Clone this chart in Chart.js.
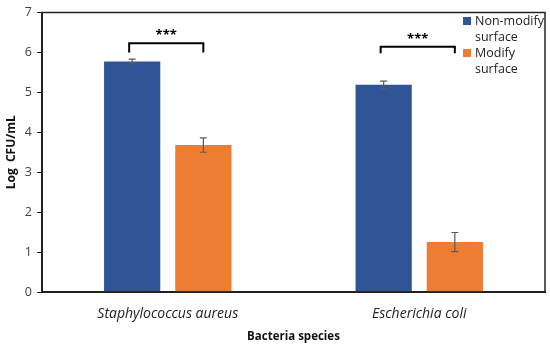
<!DOCTYPE html>
<html lang="en">
<head>
  <meta charset="UTF-8" />
  <title>Log CFU/mL by bacteria species</title>
  <script src="https://cdn.jsdelivr.net/npm/chart.js"></script>
  <style>
    html, body { margin: 0; padding: 0; background: #fff; }
    #wrap { width: 550px; height: 348px; position: relative; }
  </style>
</head>
<body>
  <div id="wrap"><canvas id="bars"></canvas></div>

  <script>
    // data
    const species = ['Staphylococcus aureus', 'Escherichia coli'];
    const nonModify = [5.77, 5.19];
    const nonModifyErr = [0.06, 0.09];
    const modify = [3.68, 1.25];
    const modifyErr = [0.18, 0.24];
    const yTicks = [0, 1, 2, 3, 4, 5, 6, 7];
    // significance: bracket top, bracket foot, label
    const sigTop = [6.23, 6.14];
    const sigFoot = [6.0, 5.98];
    const sigLabel = ['***', '***'];

    const BLUE = '#2F5597';
    const ORANGE = '#ED7D31';
    const FONT = "'Open Sans', sans-serif";

    const frame = {
      id: 'frame',
      afterDraw(chart) {
        const { ctx, chartArea: a } = chart;
        ctx.save();
        ctx.strokeStyle = '#222';
        ctx.lineWidth = 1.5;
        ctx.strokeRect(a.left, a.top, a.right - a.left, a.bottom - a.top);
        ctx.restore();
      }
    };

    const errorBars = {
      id: 'errorBars',
      afterDatasetsDraw(chart) {
        const { ctx, scales: { y } } = chart;
        const errs = [nonModifyErr, modifyErr];
        ctx.save();
        ctx.strokeStyle = '#595959';
        ctx.lineWidth = 1.2;
        chart.data.datasets.forEach((ds, di) => {
          chart.getDatasetMeta(di).data.forEach((bar, i) => {
            const v = ds.data[i], e = errs[di][i];
            const y1 = y.getPixelForValue(v + e), y2 = y.getPixelForValue(v - e);
            ctx.beginPath();
            ctx.moveTo(bar.x, y1); ctx.lineTo(bar.x, y2);
            ctx.moveTo(bar.x - 3.5, y1); ctx.lineTo(bar.x + 3.5, y1);
            ctx.moveTo(bar.x - 3.5, y2); ctx.lineTo(bar.x + 3.5, y2);
            ctx.stroke();
          });
        });
        ctx.restore();
      }
    };

    const significance = {
      id: 'significance',
      afterDatasetsDraw(chart) {
        const { ctx, scales: { y } } = chart;
        const a = chart.getDatasetMeta(0).data;
        const b = chart.getDatasetMeta(1).data;
        ctx.save();
        ctx.strokeStyle = '#000';
        ctx.lineWidth = 2;
        ctx.fillStyle = '#000';
        ctx.font = 'bold 13px ' + FONT;
        ctx.textAlign = 'center';
        ctx.textBaseline = 'middle';
        species.forEach((s, i) => {
          const x1 = a[i].x - 3, x2 = b[i].x;
          const yt = y.getPixelForValue(sigTop[i]);
          const yf = y.getPixelForValue(sigFoot[i]);
          ctx.beginPath();
          ctx.moveTo(x1, yf); ctx.lineTo(x1, yt); ctx.lineTo(x2, yt); ctx.lineTo(x2, yf);
          ctx.stroke();
          ctx.fillText(sigLabel[i], (x1 + x2) / 2, yt - 8);
        });
        ctx.restore();
      }
    };

    const legendBox = {
      id: 'legendBox',
      afterDraw(chart) {
        const { ctx } = chart;
        const x = 463, top = 17;
        ctx.save();
        ctx.font = '12.5px ' + FONT;
        ctx.textBaseline = 'middle';
        ctx.fillStyle = '#222';
        chart.data.datasets.forEach((ds, di) => {
          const y0 = top + di * 32;
          ctx.fillStyle = ds.backgroundColor;
          ctx.fillRect(x, y0, 8, 8);
          ctx.fillStyle = '#222';
          ds.label.split('\n').forEach((line, li) => {
            ctx.fillText(line, x + 12, y0 + 4 + li * 16);
          });
        });
        ctx.restore();
      }
    };

    new Chart(document.getElementById('bars'), {
      type: 'bar',
      data: {
        labels: species,
        datasets: [
          { label: 'Non-modify\nsurface', data: nonModify, backgroundColor: BLUE,
            categoryPercentage: 0.566, barPercentage: 0.79 },
          { label: 'Modify\nsurface', data: modify, backgroundColor: ORANGE,
            categoryPercentage: 0.566, barPercentage: 0.79 }
        ]
      },
      options: {
        responsive: true,
        maintainAspectRatio: false,
        animation: false,
        layout: { padding: { top: 11, right: 5, left: 0, bottom: 0 } },
        plugins: {
          legend: { display: false },
          tooltip: { enabled: false }
        },
        scales: {
          x: {
            grid: { display: false },
            border: { display: true, color: '#222', width: 2 },
            ticks: { color: '#222', font: { family: FONT, size: 14, style: 'italic' }, padding: 6 },
            title: { display: true, text: 'Bacteria species', color: '#111',
                     font: { family: FONT, size: 11.5, weight: 'bold' }, padding: { top: 6 } },
            afterFit(scale) { scale.height = 56; }
          },
          y: {
            min: 0, max: 7,
            afterBuildTicks(scale) { scale.ticks = yTicks.map(v => ({ value: v })); },
            grid: { drawOnChartArea: false, drawTicks: true, tickLength: 5, color: '#222', lineWidth: 1 },
            border: { display: true, color: '#222', width: 2 },
            ticks: { color: '#404040', font: { family: FONT, size: 12.5 }, padding: 5 },
            title: { display: true, text: 'Log  CFU/mL', color: '#111',
                     font: { family: FONT, size: 12, weight: 'bold' }, padding: { top: 4, bottom: 0 } },
            afterFit(scale) { scale.width = 42; }
          }
        }
      },
      plugins: [frame, errorBars, significance, legendBox]
    });
  </script>
</body>
</html>
